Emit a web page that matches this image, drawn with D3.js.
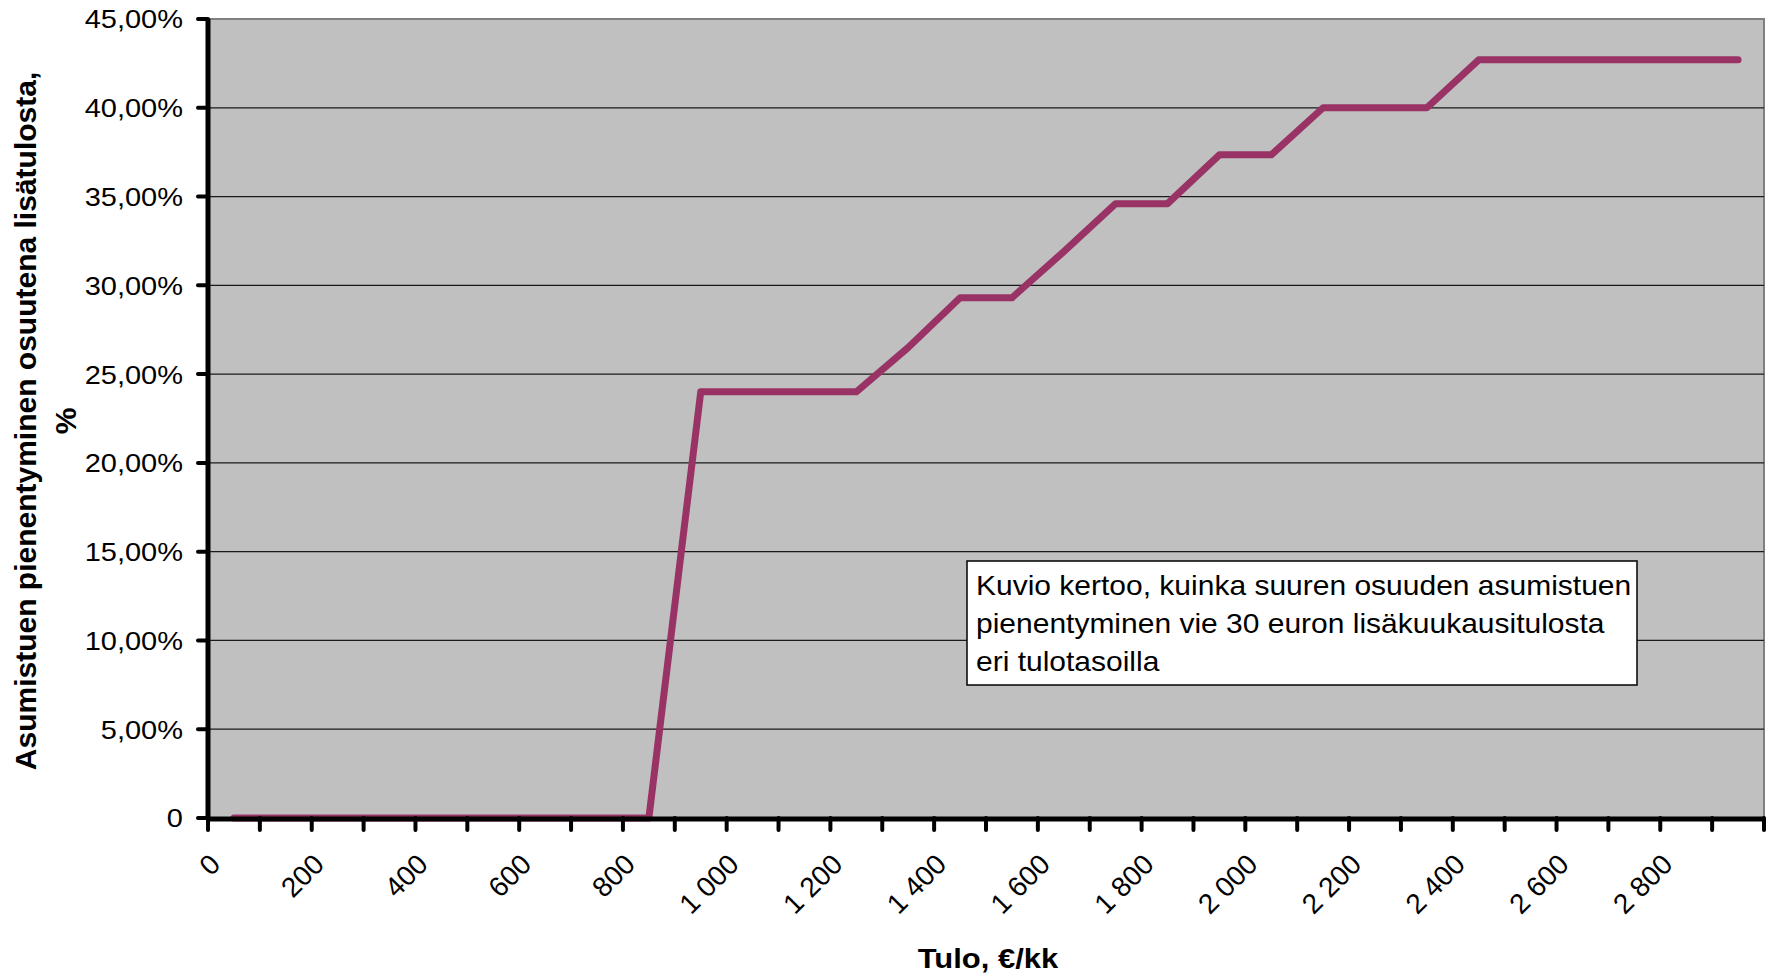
<!DOCTYPE html>
<html>
<head>
<meta charset="utf-8">
<script src="https://cdn.jsdelivr.net/npm/d3@7"></script>
<style>
  body { margin: 0; background: #fff; }
  svg text { font-family: "Liberation Sans", Arial, sans-serif; fill: #000; }
</style>
</head>
<body>
<svg id="chart" width="1769" height="976"></svg>
<script>
// Categories (income, €/kk) and the series (% of the extra income)
var categories = [0, 100, 200, 300, 400, 500, 600, 700, 800, 900, 1000, 1100, 1200, 1300, 1400,
                  1500, 1600, 1700, 1800, 1900, 2000, 2100, 2200, 2300, 2400, 2500, 2600, 2700, 2800, 2900];
var shares = [0, 0, 0, 0, 0, 0, 0, 0, 0, 24.0, 24.0, 24.0, 24.0, 26.5, 29.3,
              29.3, 31.9, 34.6, 34.6, 37.35, 37.35, 40.0, 40.0, 40.0, 42.7, 42.7, 42.7, 42.7, 42.7, 42.7];
var xTickLabels = ["0", "200", "400", "600", "800", "1 000", "1 200", "1 400", "1 600", "1 800",
                   "2 000", "2 200", "2 400", "2 600", "2 800"];
var yTicks = [0, 5, 10, 15, 20, 25, 30, 35, 40, 45];
var yTickLabels = ["0", "5,00%", "10,00%", "15,00%", "20,00%", "25,00%", "30,00%", "35,00%", "40,00%", "45,00%"];
var noteLines = ["Kuvio kertoo, kuinka suuren osuuden asumistuen",
                 "pienentyminen vie 30 euron lisäkuukausitulosta",
                 "eri tulotasoilla"];

var svg = d3.select("#chart");
// plot area edges (window.top is reserved, so no "top" here)
var plotL = 208, plotR = 1764, plotT = 19, plotB = 818;

var x = d3.scaleBand().domain(categories).range([plotL, plotR]).padding(0);
var y = d3.scaleLinear().domain([0, 45]).range([plotB, plotT]);
var bw = x.bandwidth();

// plot area
svg.append("rect")
	.attr("x", plotL).attr("y", plotT)
	.attr("width", plotR - plotL).attr("height", plotB - plotT)
	.attr("fill", "#c0c0c0")
	.attr("stroke", "#808080").attr("stroke-width", 2);

// gridlines
svg.append("g").selectAll("line")
	.data(yTicks.filter(function (d) { return d > 0 && d < 45; }))
	.enter().append("line")
	.attr("x1", plotL).attr("x2", plotR)
	.attr("y1", function (d) { return y(d); })
	.attr("y2", function (d) { return y(d); })
	.attr("stroke", "#1a1a1a").attr("stroke-width", 1.2);

// the series
var line = d3.line()
	.x(function (d, i) { return x(categories[i]) + bw / 2; })
	.y(function (d) { return y(d); });

svg.append("path")
	.datum(shares)
	.attr("d", line)
	.attr("fill", "none")
	.attr("stroke", "#993366")
	.attr("stroke-width", 7)
	.attr("stroke-linejoin", "round")
	.attr("stroke-linecap", "round");

// axes
var axes = svg.append("g");
axes.append("line")
	.attr("x1", plotL).attr("x2", plotL).attr("y1", plotT).attr("y2", plotB + 2)
	.attr("stroke", "#000").attr("stroke-width", 5);
axes.append("line")
	.attr("x1", plotL - 2).attr("x2", plotR).attr("y1", plotB + 1).attr("y2", plotB + 1)
	.attr("stroke", "#000").attr("stroke-width", 5);

// y ticks + labels
axes.selectAll(".ytick")
	.data(yTicks)
	.enter().append("line")
	.attr("x1", plotL - 10).attr("x2", plotL)
	.attr("y1", function (d) { return y(d); })
	.attr("y2", function (d) { return y(d); })
	.attr("stroke", "#000").attr("stroke-width", 4).attr("stroke-linecap", "round");

axes.selectAll(".ylab")
	.data(yTicks)
	.enter().append("text")
	.attr("transform", function (d) { return "translate(183," + y(d) + ") scale(1,0.9)"; })
	.attr("text-anchor", "end")
	.attr("dy", "0.36em")
	.style("font-size", "29px")
	.text(function (d, i) { return yTickLabels[i]; });

// x ticks at category boundaries
var bounds = categories.map(function (c) { return x(c); }).concat([plotR]);
axes.selectAll(".xtick")
	.data(bounds)
	.enter().append("line")
	.attr("x1", function (d) { return d; }).attr("x2", function (d) { return d; })
	.attr("y1", plotB).attr("y2", plotB + 12)
	.attr("stroke", "#000").attr("stroke-width", 4).attr("stroke-linecap", "round");

// x labels, every second category
axes.selectAll(".xlab")
	.data(xTickLabels)
	.enter().append("text")
	.attr("transform", function (d, i) {
		var c = categories[i * 2];
		return "translate(" + (x(c) + bw / 2 - 12) + ",866) rotate(-45)";
	})
	.attr("text-anchor", "end")
	.style("font-size", "28px")
	.text(function (d) { return d; });

// axis titles
svg.append("text")
	.attr("transform", "translate(988,968) scale(1,0.88)")
	.attr("text-anchor", "middle")
	.style("font-size", "31px").style("font-weight", "bold")
	.text("Tulo, €/kk");

var yTitle = svg.append("text")
	.attr("transform", "translate(36,421) rotate(-90)")
	.attr("text-anchor", "middle")
	.style("font-size", "30px").style("font-weight", "bold");
yTitle.append("tspan").attr("x", 0).attr("y", 0).text("Asumistuen pienentyminen osuutena lisätulosta,");
yTitle.append("tspan").attr("x", 0).attr("y", 40).text("%");

// note box
svg.append("rect")
	.attr("x", 967).attr("y", 561).attr("width", 670).attr("height", 124)
	.attr("fill", "#fff").attr("stroke", "#000").attr("stroke-width", 1.5);

svg.append("g").selectAll("text")
	.data(noteLines)
	.enter().append("text")
	.attr("transform", function (d, i) { return "translate(976," + (595 + i * 38) + ") scale(1,0.95)"; })
	.style("font-size", "30px")
	.text(function (d) { return d; });
</script>
</body>
</html>
